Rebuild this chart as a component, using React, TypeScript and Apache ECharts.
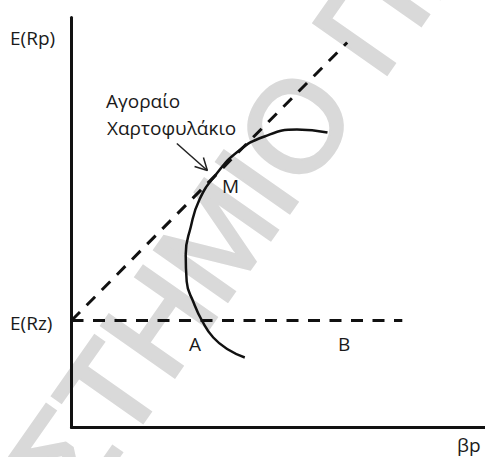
import React, { useEffect, useRef } from "react";
import * as echarts from "echarts";

// Efficient frontier (curve): [beta, E(R)]
const frontier: [number, number][] = [
  [26.0, 29.5],
  [22.9, 29.8],
  [19.6, 29.1],
  [16.9, 27.6],
  [14.6, 25.2],
  [13.0, 22.8],
  [12.1, 20.0],
  [11.6, 17.3],
  [11.7, 14.6],
  [12.4, 12.5],
  [13.3, 10.6],
  [14.4, 9.0],
  [15.9, 7.8],
  [17.6, 7.0],
];
// Capital market line (dashed, from E(Rz) through M)
const cml: [number, number][] = [
  [0, 10.7],
  [28.0, 38.5],
];
// Horizontal dashed line at E(Rz)
const rzLine: [number, number][] = [
  [0, 10.7],
  [33.6, 10.7],
];
// Arrow pointing at the market portfolio
const arrowShaft: [number, number][] = [
  [10.7, 28.4],
  [13.8, 25.7],
];
const arrowHead: [number, number][] = [
  [13.4, 27.0],
  [13.8, 25.7],
  [12.5, 26.1],
];
const xRange = [0, 42];
const yRange = [0, 41];

const WATERMARK = "ΠΑΝΕΠΙΣΤΗΜΙΟ ΠΕΙΡΑΙΩΣ";

export default function App() {
  const ref = useRef<HTMLDivElement>(null);
  useEffect(() => {
    if (!ref.current) return;
    const chart = echarts.init(ref.current, undefined, { renderer: "svg" });

    const wmFont = '128px "Liberation Sans"';
    const ctx = document.createElement("canvas").getContext("2d")!;
    ctx.font = wmFont;
    const along =
      ctx.measureText("ΠΑΝΕΠΙΣΤΗΜΙ").width + ctx.measureText("Ο").width / 2;
    const theta = (55 * Math.PI) / 180;
    const ox = 295 - along * Math.cos(theta);
    const oy = 126 + along * Math.sin(theta);

    const labelFont = '19px "Open Sans"';
    const txt = (text: string, x: number, y: number) => ({
      type: "text",
      x,
      y,
      z: 10,
      style: {
        text,
        font: labelFont,
        fill: "#1a1a1a",
        textAlign: "left",
        textVerticalAlign: "middle",
      },
    });

    const axisCommon = {
      type: "value",
      axisLine: { show: true, onZero: false, lineStyle: { color: "#111", width: 3 } },
      axisTick: { show: false },
      axisLabel: { show: false },
      splitLine: { show: false },
    };

    const lineBase = {
      type: "line",
      symbol: "none",
      showSymbol: false,
      silent: true,
      z: 5,
    };

    chart.setOption({
      animation: false,
      grid: { left: 71.5, top: 17.5, width: 420, height: 410 },
      xAxis: { ...axisCommon, min: xRange[0], max: xRange[1] },
      yAxis: { ...axisCommon, min: yRange[0], max: yRange[1] },
      series: [
        {
          ...lineBase,
          data: frontier,
          smooth: 0.5,
          lineStyle: { color: "#111", width: 2.5 },
        },
        {
          ...lineBase,
          data: cml,
          lineStyle: { color: "#111", width: 3, type: [12, 9.5] },
        },
        {
          ...lineBase,
          data: rzLine,
          lineStyle: { color: "#111", width: 3, type: [12, 9.5] },
        },
        {
          ...lineBase,
          data: arrowShaft,
          lineStyle: { color: "#222", width: 1.5 },
        },
        {
          ...lineBase,
          data: arrowHead,
          lineStyle: { color: "#222", width: 1.5 },
        },
      ],
      graphic: [
        {
          type: "text",
          x: ox,
          y: oy,
          rotation: theta,
          z: 0,
          silent: true,
          style: {
            text: WATERMARK,
            font: wmFont,
            fill: "#d9d9d9",
            stroke: "#d9d9d9",
            lineWidth: 4,
            textAlign: "left",
            textVerticalAlign: "middle",
          },
        },
        txt("E(Rp)", 10, 38),
        txt("E(Rz)", 10, 323),
        txt("Αγοραίο", 106, 101),
        txt("Χαρτοφυλάκιο", 107, 128),
        txt("M", 222, 186),
        txt("A", 189, 344),
        txt("B", 338, 344),
        txt("βp", 457, 445),
      ],
    });
    return () => chart.dispose();
  }, []);
  return (
    <div
      ref={ref}
      style={{ position: "fixed", left: 0, top: 0, width: 485, height: 457, background: "#fff" }}
    />
  );
}
